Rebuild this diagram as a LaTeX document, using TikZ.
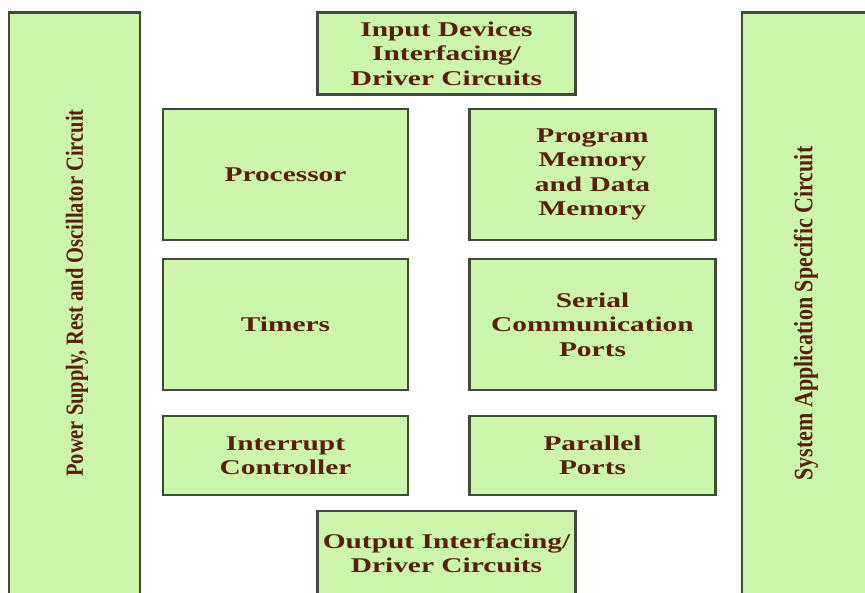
\documentclass[tikz,border=0pt]{standalone}
\usepackage{fontspec}
\setmainfont{Liberation Serif}
\newfontfamily\stretchedfont[FakeStretch=1.4]{Liberation Serif}
\newcommand{\tallglyphs}[1]{\scalebox{1}[1.2]{#1}}
\definecolor{blockfill}{HTML}{CCF6AA}
\definecolor{blockdraw}{HTML}{3F4A3C}
\definecolor{blocktext}{HTML}{5A1E0E}
\tikzset{
    x={1pt},
    y={-1pt},
    block/.style 2 args={
        draw=blockdraw, fill=blockfill,
        line width={2.5pt},
        minimum width={#1},
        minimum height={#2},
        inner sep=0pt, outer sep=0pt,
        text=blocktext, align=center,
        font={\stretchedfont\bfseries\fontsize{21}{24.5}\selectfont},
    },
    side label/.style={
        rotate=90, text=blocktext,
        inner sep=0pt, outer sep=0pt,
        font={\bfseries\fontsize{#1}{#1}\selectfont},
    },
}

\begin{document}
\begin{tikzpicture}
% frame
\useasboundingbox (0,0) rectangle (865,592);
\clip (0,0) rectangle (865,592);
% side bars
\node[block={131}{600}] (power) at (74.5,312.5) {};
\node[side label={20.5}] (power label) at (77,293) {\tallglyphs{Power Supply, Rest and Oscillator Circuit}};
\node[block={134}{600}] (system) at (809,312.5) {};
\node[side label={22}] (system label) at (806,313.5) {\tallglyphs{System Application Specific Circuit}};
% blocks
\node[block={258}{82}] (input) at (446.5,53.5) {Input Devices\\Interfacing/\\Driver Circuits};
\node[block={245}{131}] (processor) at (285.5,174.5) {Processor};
\node[block={246}{131}] (memory) at (592.5,174.5) {Program\\Memory\\and Data\\Memory};
\node[block={245}{131}] (timers) at (285.5,324.5) {Timers};
\node[block={246}{131}] (serial) at (592.5,324.5) {Serial\\Communication\\Ports};
\node[block={245}{79}] (interrupt) at (285.5,455.5) {Interrupt\\Controller};
\node[block={246}{79}] (parallel) at (592.5,455.5) {Parallel\\Ports};
\node[block={258}{84}] (output) at (446.5,553) {Output Interfacing/\\Driver Circuits};
\end{tikzpicture}
\end{document}
